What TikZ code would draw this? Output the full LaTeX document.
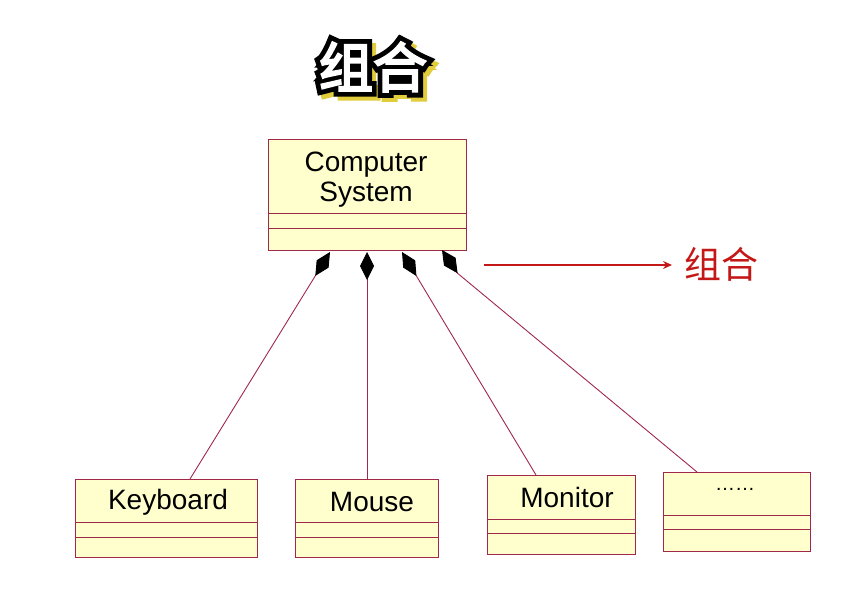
\documentclass[tikz,border=0pt]{standalone}
\usepackage{fontspec}
\setmainfont{Liberation Sans}
\newfontfamily\cjk{Noto Sans CJK SC}
\newfontfamily\cjkb[FakeBold=4]{Noto Sans CJK SC}
\newfontfamily\cjkbb[FakeBold=22]{Noto Sans CJK SC}
\usetikzlibrary{arrows.meta,calc}
\definecolor{boxfill}{RGB}{255,255,206}
\definecolor{boxline}{RGB}{160,40,75}
\definecolor{lblred}{RGB}{196,24,24}
\definecolor{shadowy}{RGB}{225,205,60}
\tikzset{
  umlbox/.style={draw=boxline, fill=boxfill, line width=0.9pt, inner sep=0pt, outer sep=0pt, anchor=north west},
  umltext/.style={font=\fontsize{28}{30}\selectfont, text=black, inner sep=0pt},
  divider/.style={draw=boxline, line width=0.9pt},
  compose/.style={draw=boxline, line width=0.9pt, -{Diamond[length=28pt,width=14pt,color=black,fill=black]}},
  titleout/.style={font=\cjkbb\fontsize{54}{58}\selectfont, inner sep=0pt},
  titletxt/.style={font=\cjkb\fontsize{54}{58}\selectfont, inner sep=0pt}
}
\begin{document}
\begin{tikzpicture}[x=1pt,y=-1pt]
\useasboundingbox (0,0) rectangle (866,603);
% title with outline and shadow
\node[titleout, text=shadowy] (titleshadow) at (377,71) {组合};
\node[titleout, text=black] (titleline) at (373,67) {组合};
\node[titletxt, text=white] (title) at (373,67) {组合};

% parent class
\node[umlbox, minimum width=198pt, minimum height=111pt] (cs) at (268,139) {};
\node[umltext, align=center] (cst) at (366,180) {Computer\\System};
\draw[divider] (cs.west |- 0,213) -- (cs.east |- 0,213);
\draw[divider] (cs.west |- 0,228) -- (cs.east |- 0,228);

% children
\node[umlbox, minimum width=182pt, minimum height=78pt] (kb) at (75,479) {};
\node[umltext] (kbt) at (168,502) {Keyboard};
\draw[divider] (kb.west |- 0,522) -- (kb.east |- 0,522);
\draw[divider] (kb.west |- 0,537) -- (kb.east |- 0,537);

\node[umlbox, minimum width=143pt, minimum height=78pt] (ms) at (295,479) {};
\node[umltext] (mst) at (372,502) {Mouse};
\draw[divider] (ms.west |- 0,522) -- (ms.east |- 0,522);
\draw[divider] (ms.west |- 0,537) -- (ms.east |- 0,537);

\node[umlbox, minimum width=148pt, minimum height=79pt] (mn) at (487,475) {};
\node[umltext] (mnt) at (567,497) {Monitor};
\draw[divider] (mn.west |- 0,519) -- (mn.east |- 0,519);
\draw[divider] (mn.west |- 0,533) -- (mn.east |- 0,533);

\node[umlbox, minimum width=147pt, minimum height=79pt] (ot) at (663,472) {};
\node[umltext, font=\fontsize{20}{22}\selectfont] (ott) at (735,489) {……};
\draw[divider] (ot.west |- 0,515) -- (ot.east |- 0,515);
\draw[divider] (ot.west |- 0,529) -- (ot.east |- 0,529);

% composition tips
\coordinate (d1) at (330,252);
\coordinate (d2) at (367,252);
\coordinate (d3) at (402,252);
\coordinate (d4) at (442,250);
\coordinate (d4m) at (457.6,273.3);
\coordinate (k1) at (190,479);
\coordinate (m1) at (367,479);
\coordinate (n1) at (536,475);
\coordinate (o1) at (697,472);
\draw[compose] (k1) -- (d1);
\draw[compose] (m1) -- (d2);
\draw[compose] (n1) -- (d3);
\draw[compose] (o1) -- (d4m) -- (d4);

% legend
\node[font=\cjk\fontsize{37}{40}\selectfont, text=lblred, inner sep=0pt, anchor=west] (lbl) at (684,264) {组合};
\coordinate (ls) at (484,265);
\coordinate (le) at (672,265);
\draw[draw=lblred, line width=1.2pt, -{Stealth[length=9pt,width=8pt]}] (ls) -- (le);
\end{tikzpicture}
\end{document}
